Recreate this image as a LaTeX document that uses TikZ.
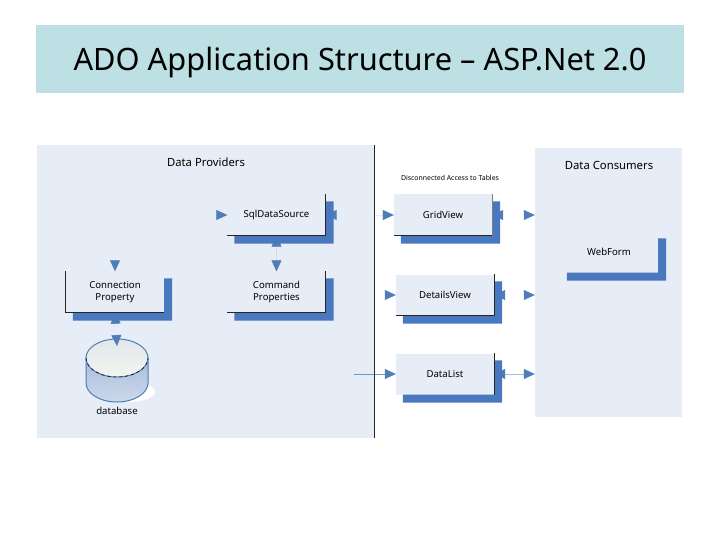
\documentclass[tikz,border=0pt]{standalone}
\usepackage{fontspec}
\setmainfont{Noto Sans}
\usetikzlibrary{arrows.meta,backgrounds,calc}
\pgfdeclarelayer{links}
\pgfsetlayers{background,links,main}
\definecolor{bandteal}{HTML}{BCE0E3}
\definecolor{panelblue}{HTML}{E6EDF7}
\definecolor{shadowblue}{HTML}{4A78BE}
\definecolor{tipblue}{HTML}{4F7DB8}
\definecolor{dbbodytop}{HTML}{A9BEDC}
\definecolor{dbbodylow}{HTML}{CBD8EA}
\definecolor{dbcaptop}{HTML}{E2E7EC}
\definecolor{dbcaplow}{HTML}{F3F4EE}
\tikzset{
  headtip/.tip={Triangle[length=11pt,width=10pt,color=tipblue,fill=tipblue]},
  titleband/.style={fill=bandteal, minimum width=648pt, minimum height=68pt, inner sep=0pt},
  heading/.style={font=\fontsize{11.3}{13}\selectfont},
  panel/.style={fill=panelblue, inner sep=0pt},
  viewbox/.style={fill=panelblue, align=center, minimum width=98pt, minimum height=41pt,
    inner sep=0pt, font=\fontsize{9.6}{12.5}\selectfont},
  edge/.style={line width=.8pt, draw=black!85},
  link/.style={headtip-headtip, line width=.5pt, draw=white},
  linkin/.style={-headtip, line width=.5pt, draw=white},
  hidden/.style={draw=panelblue, line width=.2pt}
}
\begin{document}
\begin{tikzpicture}[x=1pt,y=-1pt]
\useasboundingbox (0,0) rectangle (720,540);

\node[titleband] (band) at (360,59) {};
\node[font=\fontsize{30.8}{34}\selectfont, inner sep=0pt] (title) at (360,62)
  {ADO Application Structure – ASP.Net 2.0};

% Boxes
\node[viewbox] (sql) at (276.5,215) {SqlDataSource};
\node[viewbox] (conn) at (115,292) {Connection\\Property};
\node[viewbox] (cmd) at (276.5,292) {Command\\Properties};
\node[viewbox] (grid) at (443,215) {GridView};
\node[viewbox] (details) at (445,295) {DetailsView};
\node[viewbox] (dlist) at (445,374) {DataList};
\node[viewbox] (webform) at (609,252) {WebForm};

% Labels
\node[heading] (providers) at (206,162) {Data Providers};
\node[heading] (consumers) at (609,165) {Data Consumers};
\node[font=\fontsize{6.9}{8}\selectfont] (disconnected) at (450,178) {Disconnected Access to Tables};
\node[viewbox, fill=none, minimum width=0pt, minimum height=0pt] (dbname) at (117,411) {database};

\begin{scope}[on background layer]
  \node[panel, minimum width=337pt, minimum height=293pt] (providerpanel) at (205.5,291.5) {};
  \node[panel, minimum width=147pt, minimum height=269pt] (consumerpanel) at (608.5,282.5) {};
  % Database
  \node[inner sep=0pt, minimum width=62pt, minimum height=63pt] (database) at (117,370.5) {};
  \fill[white] (127,392) ellipse[x radius=28, y radius=10];
  \shade[top color=dbbodytop, bottom color=dbbodylow, draw=tipblue, line width=1pt]
    (86,358) -- (86,383) arc[start angle=180, end angle=0, x radius=31, y radius=19] -- (148,358) -- cycle;
  \shade[top color=dbcaptop, bottom color=dbcaplow, draw=tipblue, line width=1pt]
    (117,358) ellipse[x radius=31, y radius=19];
  \draw[black, dashed, line width=.6pt] (86,358) arc[start angle=180, end angle=0, x radius=31, y radius=19];
\end{scope}

\coordinate (sqlin) at (205,215);
\coordinate (detailsin) at (380,295);
\coordinate (dlistin) at (354,374);
\coordinate (dbtop) at (117,346);

% Connectors, under the shadows
\begin{pgfonlayer}{links}
  \draw[linkin, draw=panelblue] (sql.west) -| (conn.north);
  \draw[linkin, draw=panelblue] (sqlin) -- (sql.west);
  \draw[link, hidden] (sql.east) -- (grid.west);
  \draw[link, draw=black!15] (sql.south) -- (cmd.north);
  \draw[link, draw=panelblue] (conn.south) -- (dbtop);
  \draw[linkin] (detailsin) -- (details.west);
  \draw[linkin, draw=tipblue!80] (dlistin) -- (dlist.west);
  \draw[link] (grid.east) -- (grid.east -| consumerpanel.west);
  \draw[link] (details.east) -- (details.east -| consumerpanel.west);
  \draw[link, draw=tipblue!50] (dlist.east) -- (dlist.east -| consumerpanel.west);
\end{pgfonlayer}

% Shadows
\foreach \n in {sql,conn,cmd,grid,details,dlist,webform}{
  \fill[shadowblue] ($(\n.north east)+(0,7)$) -- ++(8,0) |- ($(\n.south west)+(7,8)$)
    -- ($(\n.south west)+(7,0)$) -- (\n.south east) -- cycle;
}

% Box edges
\foreach \n in {sql,cmd,details}{\draw[edge] (\n.south west) -- (\n.south east) -- (\n.north east);}
\draw[edge] (conn.north west) -- (conn.south west) -- (conn.south east);
\draw[edge] (grid.south west) -- (grid.south east);
\draw[edge, line width=.4pt, draw=black!50] (grid.south east) -- (grid.north east);
\draw[edge] (dlist.south east) -- (dlist.north east);

% Divider
\draw[edge] (providerpanel.north east) -- (providerpanel.south east);
\end{tikzpicture}
\end{document}
